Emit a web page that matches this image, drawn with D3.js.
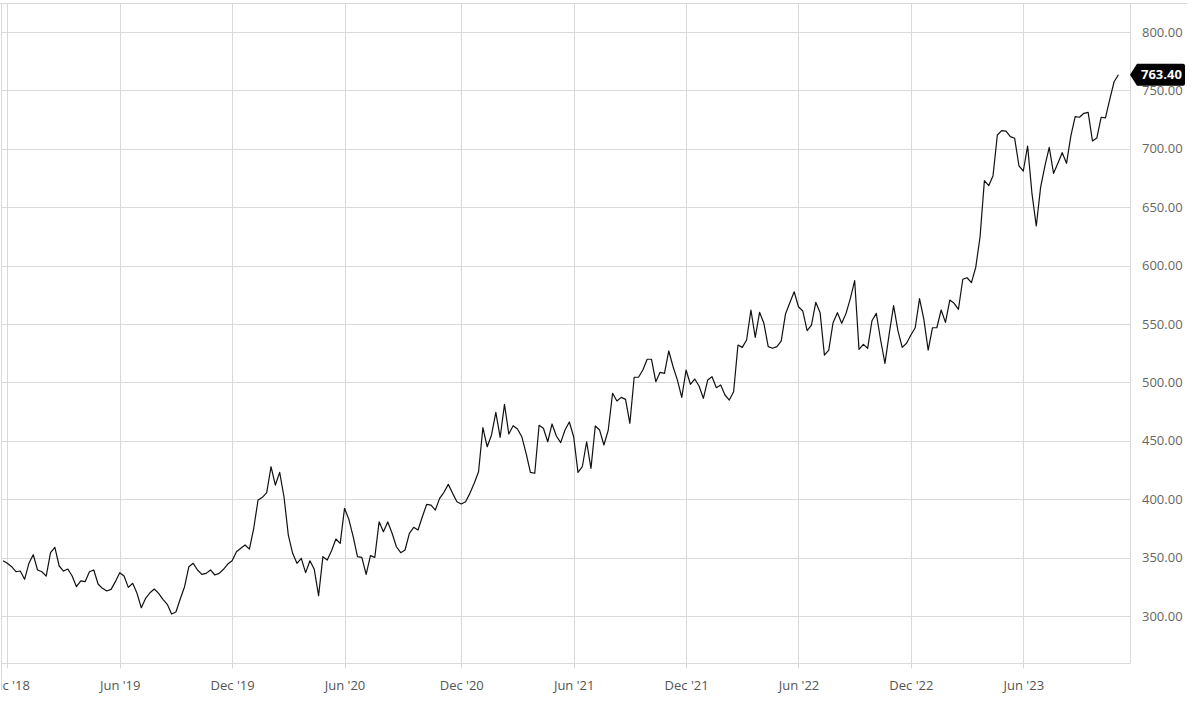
<!DOCTYPE html>
<html>
<head>
<meta charset="utf-8">
<script src="https://cdn.jsdelivr.net/npm/d3@7"></script>
<style>
  html, body { margin: 0; padding: 0; background: #fff; }
  svg { display: block; }
  text { font-family: "Open Sans", "Noto Sans", sans-serif; }
</style>
</head>
<body>
<svg id="chart" width="1200" height="707"></svg>
<script>
// ---- DATA (weekly closes, Mondays, starting 26 Nov 2018) ----
const startDate = "2018-11-26";
const closes = [
  347.3, 345.1, 342.2, 337.9, 338.5, 331.4, 345.1, 352.5, 339.4, 337.9,
  334.2, 354.2, 358.8, 342.8, 338.5, 340.2, 334.2, 325.1, 330.0, 329.4,
  337.9, 339.4, 327.4, 323.7, 321.4, 322.8, 329.4, 337.1, 334.2, 324.5,
  328.0, 319.4, 307.1, 315.1, 319.9, 323.1, 319.4, 314.3, 310.0, 301.7,
  303.4, 314.5, 325.1, 342.2, 345.1, 339.4, 335.7, 336.5, 339.4, 335.1,
  336.5, 340.0, 344.5, 347.3, 355.0, 358.0, 360.8, 357.3, 375.1, 399.3,
  401.6, 405.6, 427.8, 412.1, 423.0, 402.1, 369.3, 353.7, 345.1, 349.4,
  337.1, 347.3, 340.0, 317.4, 350.8, 347.9, 355.9, 365.9, 362.2, 392.2,
  382.8, 367.9, 350.8, 350.2, 335.7, 351.7, 350.2, 380.7, 372.2, 380.5,
  370.8, 359.3, 354.2, 356.5, 370.8, 375.9, 373.6, 385.0, 395.6, 395.0,
  390.7, 400.7, 405.9, 412.7, 405.0, 397.8, 395.9, 397.8, 405.0, 413.6,
  423.5, 461.2, 444.9, 455.0, 474.4, 453.0, 481.2, 455.8, 462.9, 460.1,
  453.5, 439.3, 423.0, 422.2, 463.3, 460.7, 449.2, 464.4, 454.1, 448.4,
  459.2, 466.1, 453.5, 423.0, 427.8, 449.2, 426.4, 462.7, 459.2, 446.4,
  459.2, 490.7, 484.1, 487.2, 485.5, 465.0, 504.4, 504.4, 510.6, 519.8,
  519.8, 500.6, 508.6, 507.8, 526.9, 513.4, 502.0, 487.2, 510.6, 498.4,
  502.9, 496.9, 486.4, 502.0, 504.9, 495.5, 497.8, 489.2, 484.9, 492.0,
  532.0, 530.0, 536.3, 562.0, 538.6, 560.0, 550.6, 530.6, 529.2, 530.6,
  535.4, 558.6, 568.2, 577.6, 564.8, 561.1, 544.3, 549.1, 568.6, 559.7,
  523.4, 527.7, 551.1, 559.7, 550.6, 559.1, 572.0, 587.1, 528.3, 532.6,
  529.2, 552.8, 559.1, 536.3, 516.3, 542.0, 565.7, 544.3, 530.0, 533.5,
  540.6, 546.8, 571.7, 554.0, 527.7, 546.8, 546.8, 562.0, 551.4, 570.5,
  567.7, 562.6, 588.3, 589.6, 585.4, 598.5, 624.7, 672.7, 668.4, 677.0,
  711.8, 715.5, 715.2, 710.4, 709.0, 685.3, 681.0, 702.4, 661.9, 633.9,
  667.0, 685.3, 701.3, 679.0, 687.6, 696.7, 687.6, 711.0, 727.5, 727.0,
  730.4, 731.2, 706.7, 709.2, 727.0, 726.4, 742.4, 757.4, 763.4
];
const xTickLabels = ["Dec '18", "Jun '19", "Dec '19", "Jun '20", "Dec '20",
                     "Jun '21", "Dec '21", "Jun '22", "Dec '22", "Jun '23"];
const yTickValues = [300, 350, 400, 450, 500, 550, 600, 650, 700, 750, 800];

// ---- BUILD ----
const parse = d3.timeParse("%Y-%m-%d");
const t0 = parse(startDate);
const data = closes.map((v, i) => ({ date: d3.timeDay.offset(t0, 7 * i), value: v }));
const fmtTick = d3.timeFormat("%b '%y");
const tickDates = xTickLabels.map(lbl => data.find(d => fmtTick(d.date) === lbl).date);

const svg = d3.select("#chart");
const plot = { left: 2, right: 1130, top: 3.5, bottom: 663.5 };

const x = d3.scaleTime()
  .domain([tickDates[0], tickDates[tickDates.length - 1]])
  .range([7.3, 1023.3]);
const y = d3.scaleLinear().domain([300, 800]).range([616, 32]);

const gridColor = "#d9d9d9";

// clip for the axis labels (chart frame starts at x = 2.5)
svg.append("defs").append("clipPath").attr("id", "labelClip")
  .append("rect").attr("x", 2.5).attr("y", 0).attr("width", 1200).attr("height", 707);

// outer frame lines
svg.append("line").attr("x1", 1.5).attr("x2", 1.5).attr("y1", plot.top).attr("y2", 690)
  .attr("stroke", gridColor).attr("stroke-width", 1);
svg.append("line").attr("x1", 0).attr("x2", 1187).attr("y1", plot.top).attr("y2", plot.top)
  .attr("stroke", gridColor).attr("stroke-width", 1);

// horizontal grid
svg.append("g").selectAll("line").data(yTickValues).join("line")
  .attr("x1", plot.left).attr("x2", plot.right)
  .attr("y1", d => Math.round(y(d)) + 0.5).attr("y2", d => Math.round(y(d)) + 0.5)
  .attr("stroke", gridColor).attr("stroke-width", 1);

// vertical grid (extends into small tick below axis)
svg.append("g").selectAll("line").data(tickDates).join("line")
  .attr("x1", d => Math.round(x(d)) + 0.5).attr("x2", d => Math.round(x(d)) + 0.5)
  .attr("y1", plot.top).attr("y2", plot.bottom + 5)
  .attr("stroke", gridColor).attr("stroke-width", 1);

// bottom axis line & right axis line
svg.append("line").attr("x1", plot.left).attr("x2", plot.right)
  .attr("y1", plot.bottom).attr("y2", plot.bottom)
  .attr("stroke", gridColor).attr("stroke-width", 1);
svg.append("line").attr("x1", plot.right + 0.5).attr("x2", plot.right + 0.5)
  .attr("y1", plot.top).attr("y2", plot.bottom)
  .attr("stroke", gridColor).attr("stroke-width", 1);

// x axis labels
const xAxis = d3.axisBottom(x).tickValues(tickDates).tickFormat(fmtTick).tickSize(0).tickPadding(17);
const gx = svg.append("g").attr("clip-path", "url(#labelClip)")
  .append("g").attr("transform", `translate(0,${plot.bottom})`).call(xAxis);
gx.select(".domain").remove();
gx.selectAll("text").attr("fill", "#555").attr("font-size", 13).attr("font-family", '"Open Sans", sans-serif');

// y axis labels (right)
const yAxis = d3.axisRight(y).tickValues(yTickValues).tickFormat(d3.format(".2f")).tickSize(0).tickPadding(12);
const gy = svg.append("g").attr("transform", `translate(${plot.right},0)`).call(yAxis);
gy.select(".domain").remove();
gy.selectAll("text").attr("fill", "#666").attr("font-size", 13).attr("font-family", '"Open Sans", sans-serif');

// price line
const line = d3.line().x(d => x(d.date)).y(d => y(d.value));
svg.append("path").datum(data)
  .attr("d", line)
  .attr("fill", "none")
  .attr("stroke", "#111")
  .attr("stroke-width", 1.2)
  .attr("stroke-linejoin", "round");

// last price tag
const last = data[data.length - 1];
const ty = y(last.value);
const tagX = plot.right, tagH = 22, tagW = 55;
svg.append("path")
  .attr("d", `M${tagX},${ty} L${tagX + 7},${ty - tagH / 2} L${tagX + tagW - 2},${ty - tagH / 2}
              Q${tagX + tagW},${ty - tagH / 2} ${tagX + tagW},${ty - tagH / 2 + 2}
              L${tagX + tagW},${ty + tagH / 2 - 2}
              Q${tagX + tagW},${ty + tagH / 2} ${tagX + tagW - 2},${ty + tagH / 2}
              L${tagX + 7},${ty + tagH / 2} Z`)
  .attr("fill", "#000");
svg.append("text")
  .attr("x", tagX + 11).attr("y", ty)
  .attr("dy", "0.35em")
  .attr("fill", "#fff")
  .attr("font-size", 13)
  .attr("font-weight", 700)
  .text(d3.format(".2f")(last.value));
</script>
</body>
</html>
